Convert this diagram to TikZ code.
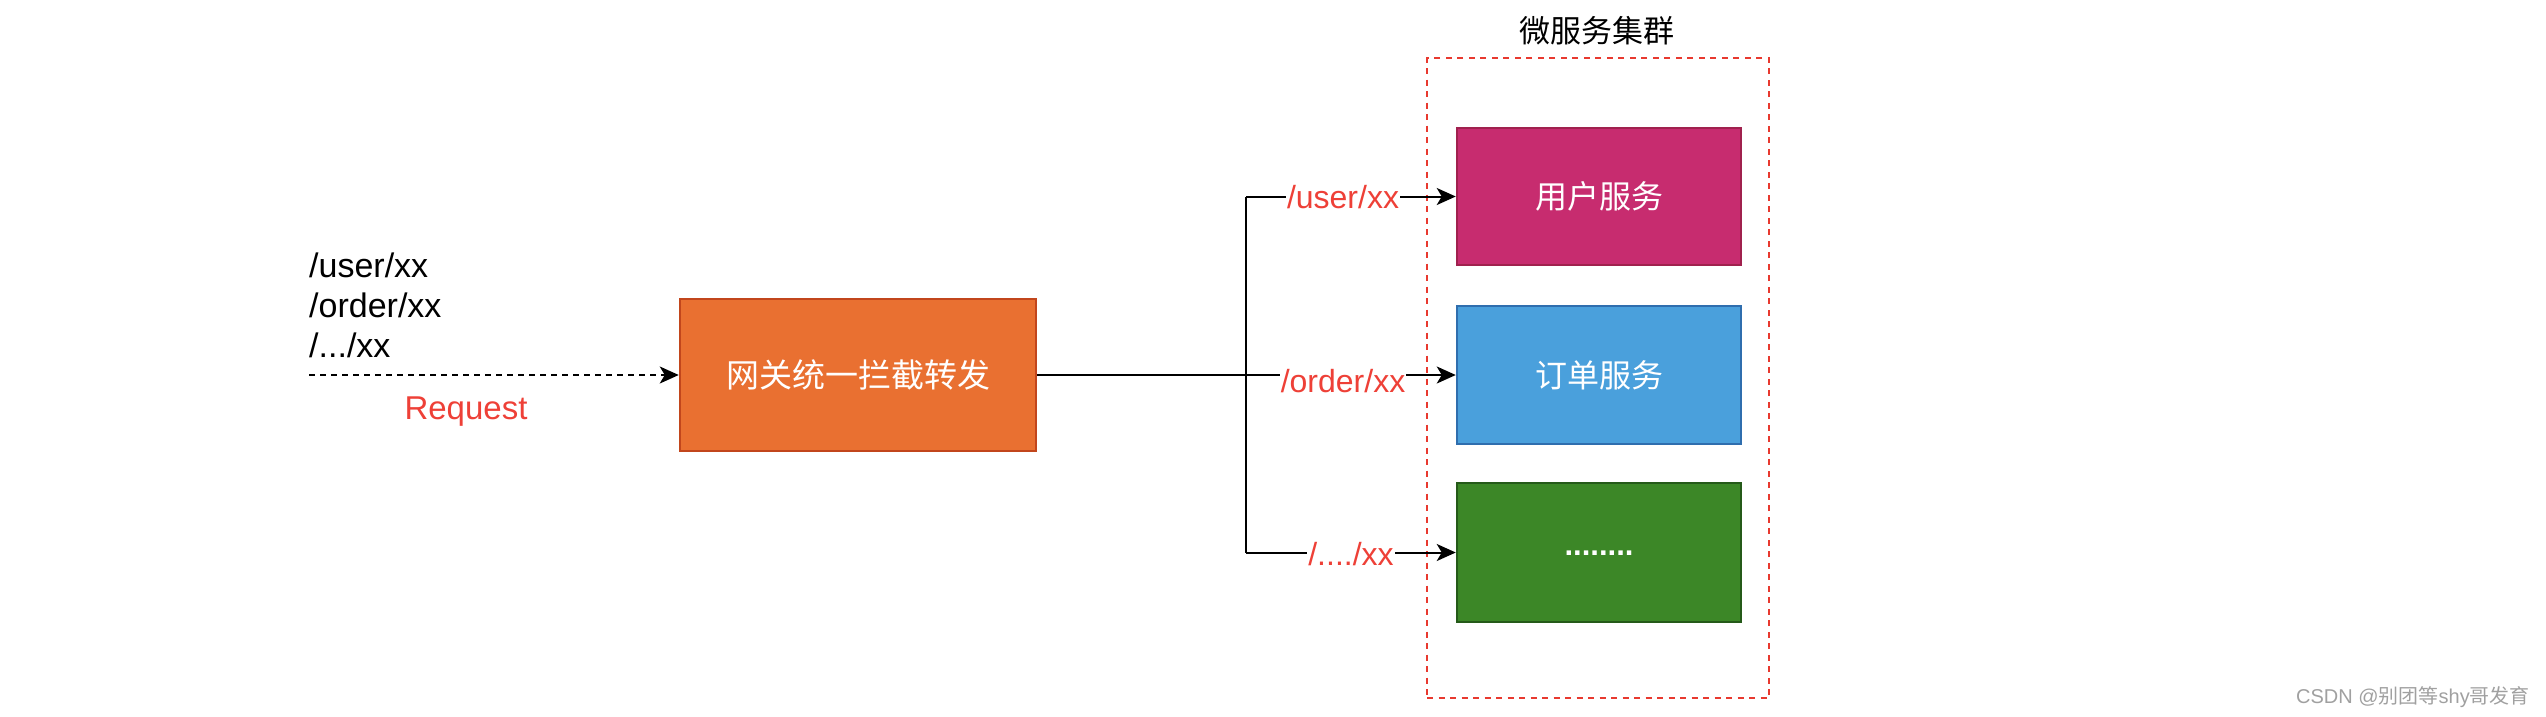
\documentclass[tikz,border=0pt]{standalone}
\usepackage{fontspec}
\setmainfont{Liberation Sans}
\newfontfamily\cjk{Noto Sans CJK SC}
\usetikzlibrary{arrows.meta}
\definecolor{gwfill}{HTML}{E97031}
\definecolor{gwline}{HTML}{C2461C}
\definecolor{usfill}{HTML}{C72C6F}
\definecolor{usline}{HTML}{A0214E}
\definecolor{orfill}{HTML}{4AA0DC}
\definecolor{orline}{HTML}{2F6EAE}
\definecolor{grfill}{HTML}{3C8727}
\definecolor{grline}{HTML}{255A19}
\definecolor{redline}{HTML}{E8392F}
\definecolor{redtext}{HTML}{EE4037}
\definecolor{wmgray}{HTML}{A0A0A0}
\begin{document}
\begin{tikzpicture}[x=1pt,y=-1pt,
  box/.style={draw, line width=2.5pt, minimum width=284pt, minimum height=137pt,
    text=white, font=\cjk\fontsize{32}{38}\selectfont, inner sep=0pt},
  conn/.style={line width=2pt, draw=black},
  tip/.style={-{Stealth[length=19pt,width=17pt,inset=5pt]}},
  reqtext/.style={font=\fontsize{34}{40}\selectfont, inner sep=0pt, anchor=base west},
  lbl/.style={font=\fontsize{32}{38}\selectfont, text=redtext, fill=white, inner sep=1pt},
]
\useasboundingbox (0,0) rectangle (2546,716);

% request text
\node[reqtext] (t1) at (309,277) {/user/xx};
\node[reqtext] (t2) at (309,317) {/order/xx};
\node[reqtext] (t3) at (309,357) {/.../xx};
\coordinate (rs) at (309,375);

% gateway
\node[box, draw=gwline, fill=gwfill, minimum width=356pt, minimum height=152pt,
  font=\cjk\fontsize{33}{40}\selectfont] (gw) at (858,375) {网关统一拦截转发};

\draw[conn, tip, dash pattern=on 5.5pt off 5.5pt] (rs) -- (gw.west);
\node[font=\fontsize{33}{40}\selectfont, text=redtext, inner sep=0pt, anchor=base] (req) at (466,419) {Request};

% container
\node[draw=redline, line width=2.2pt, dash pattern=on 6pt off 5.5pt,
  minimum width=342pt, minimum height=640pt, inner sep=0pt] (cont) at (1598,378) {};
\node[font=\cjk\fontsize{31}{38}\selectfont, inner sep=0pt] (title) at (1597,31) {微服务集群};

% services
\node[box, draw=usline, fill=usfill] (user) at (1599,196.5) {用户服务};
\node[box, draw=orline, fill=orfill, minimum height=138pt] (order) at (1599,375) {订单服务};
\node[box, draw=grline, fill=grfill, minimum height=139pt, font=\bfseries\fontsize{31}{36}\selectfont] (dots) at (1599,552.5) {\raisebox{-6pt}{........}};

% connectors
\coordinate (j) at (1246,375);
\draw[conn, tip] (gw.east) -- (order.west);
\draw[conn] (j |- user.west) -- (j |- dots.west);
\draw[conn, tip] (j |- user.west) -- (user.west);
\draw[conn, tip] (j |- dots.west) -- (dots.west);

% labels
\node[lbl] (l1) at (1343,197) {/user/xx};
\node[lbl] (l2) at (1343,381) {/order/xx};
\node[lbl] (l3) at (1351,554) {/..../xx};

% watermark
\node[anchor=east, text=wmgray, font=\fontsize{20}{24}\selectfont, inner sep=0pt] (wm) at (2530,697) {CSDN @{\cjk 别团等}shy{\cjk 哥发育}};
\end{tikzpicture}
\end{document}
